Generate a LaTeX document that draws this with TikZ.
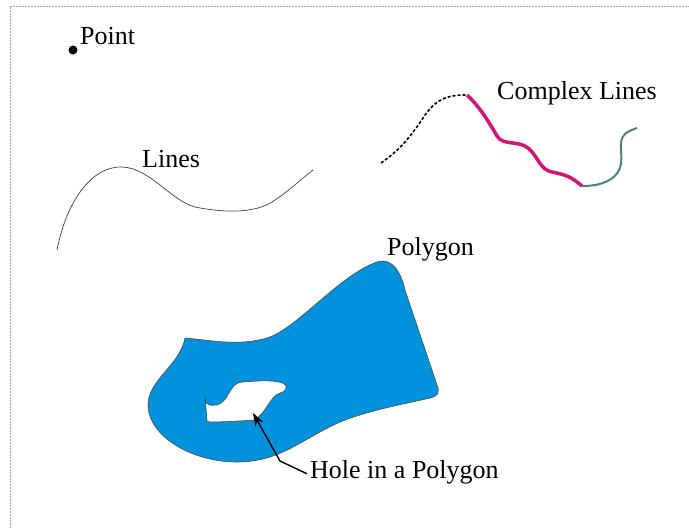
\documentclass[tikz,border=0pt]{standalone}
\usepackage{fontspec}
\setmainfont{Liberation Serif}
\usetikzlibrary{arrows.meta}
\definecolor{polyblue}{RGB}{0,146,221}
\definecolor{cmagenta}{RGB}{214,18,122}
\definecolor{cteal}{RGB}{78,128,128}
\tikzset{
  lbl/.style={anchor=base west,inner sep=0pt,font=\fontsize{26}{30}\selectfont},
  framestyle/.style={draw=gray!70,line width=0.8pt,dash pattern=on 2pt off 1pt},
}
\begin{document}
\begin{tikzpicture}[x=1pt,y=-1pt]
\useasboundingbox (0,0) rectangle (689,528);
% frame (left and top only)
\draw[framestyle] (10,528) -- (10,6) -- (689,6);

% point
\node[circle,fill=black,inner sep=0pt,minimum size=9pt] (pt) at (73,50) {};
\node[lbl] (ptlabel) at (80,44) {Point};

% simple line
\node[lbl] (lineslabel) at (142,167) {Lines};
\draw[draw=black!75,line width=0.7pt] (57,250) .. controls (68,195) and (95,166) .. (122,167)
  .. controls (150,168) and (170,200) .. (195,207)
  .. controls (220,212) and (255,215) .. (275,200)
  .. controls (290,190) and (300,180) .. (313,170);

% complex lines
\node[lbl] (cxlabel) at (497,99) {Complex Lines};
\coordinate (c0) at (381,163);
\coordinate (c1) at (467,95);
\coordinate (c2) at (582,186);
\coordinate (c3) at (637,128);
\draw[black,line width=1.6pt,dash pattern=on 3pt off 2pt] (c0) .. controls (400,150) and (412,135) .. (425,115)
  .. controls (438,97) and (450,95) .. (c1);
\draw[cmagenta,line width=3.5pt] (c1) .. controls (478,105) and (488,120) .. (497,136)
  .. controls (503,146) and (518,140) .. (528,148)
  .. controls (538,156) and (540,170) .. (552,172)
  .. controls (566,175) and (570,176) .. (c2);
\draw[cteal,line width=2pt] (c2) .. controls (600,186) and (615,181) .. (620,168)
  .. controls (624,155) and (617,141) .. (625,134)
  .. controls (628,131) and (632,130) .. (c3);

% polygon with hole
\node[lbl] (polylabel) at (387,255) {Polygon};
\filldraw[fill=polyblue,draw=black!70,line width=0.6pt,even odd rule]
  (185,338) .. controls (210,340) and (240,347) .. (270,337)
  .. controls (300,325) and (340,275) .. (377,262)
  .. controls (392,257) and (401,272) .. (405,290)
  -- (437,385)
  .. controls (440,393) and (438,396) .. (430,398)
  .. controls (400,405) and (370,410) .. (340,422)
  .. controls (300,440) and (280,462) .. (237,462)
  .. controls (190,462) and (148,435) .. (148,405)
  .. controls (148,380) and (180,365) .. (185,338) -- cycle
  (207,421) -- (205,396) -- (206,403)
  .. controls (213,408) and (221,405) .. (226,398)
  .. controls (231,390) and (234,382) .. (243,382)
  .. controls (255,381) and (270,380) .. (279,382)
  .. controls (289,384) and (288,391) .. (280,393)
  .. controls (270,396) and (266,414) .. (254,420)
  .. controls (240,421) and (222,422) .. (210,422) -- cycle;

% hole label and arrow
\node[lbl] (holelabel) at (310,478) {Hole in a Polygon};
\coordinate (holetip) at (253,413);
\coordinate (bend) at (280,461);
\draw[black,line width=1.4pt,-{Stealth[length=13pt,width=9pt]}]
  ([xshift=-3pt,yshift=-2pt]holelabel.west) -- (bend) -- (holetip);
\end{tikzpicture}
\end{document}
